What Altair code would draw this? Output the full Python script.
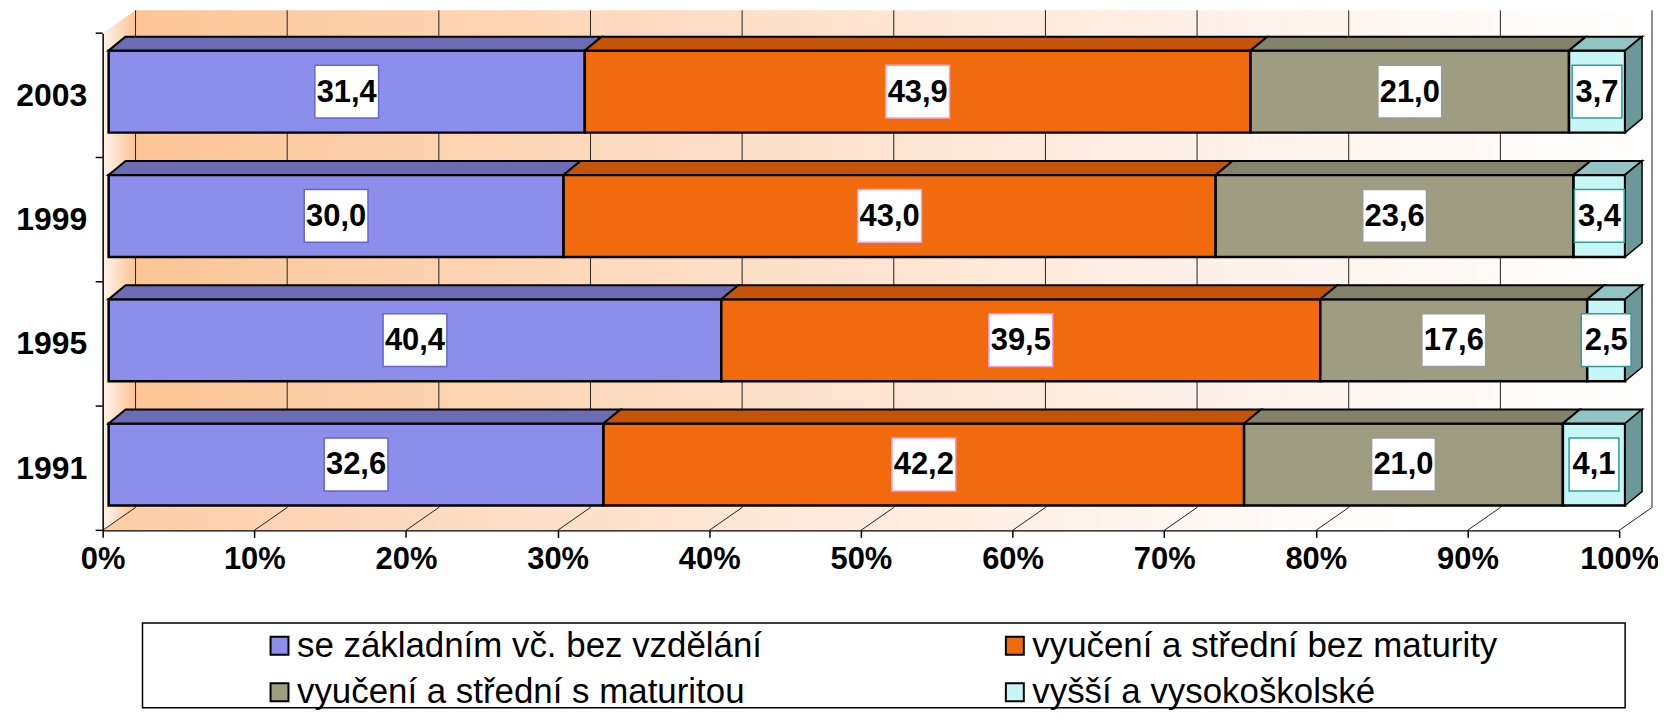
import json
import altair as alt
import pandas as pd

# ---------------- data ----------------
years = ["1991", "1995", "1999", "2003"]
series = [
    "se základním vč. bez vzdělání",
    "vyučení a střední bez maturity",
    "vyučení a střední s maturitou",
    "vyšší a vysokoškolské",
]
zakladni = [32.6, 40.4, 30.0, 31.4]
bez_maturity = [42.2, 39.5, 43.0, 43.9]
s_maturitou = [21.0, 17.6, 23.6, 21.0]
vysokoskolske = [4.1, 2.5, 3.4, 3.7]
x_ticks = [0, 10, 20, 30, 40, 50, 60, 70, 80, 90, 100]

# ---------------- style ----------------
front_colors = ["#8D8DEB", "#F26A0E", "#9E9D82", "#C6F6F6"]
top_colors = ["#6C6CB4", "#C4540A", "#83826B", "#93C4C4"]
box_colors = ["#6666CC", "#F0A0D8", "#9A9A9A", "#2E9C9C"]
SIDE_COLOR = "#6C9898"
FONT = "Liberation Sans"

W, H = 1522, 499
PX_X = W / 100.0
PX_Y = H / len(years)
WDX, WDY = 33 / PX_X, 23 / PX_Y      # wall / floor depth in data units
BDX, BDY = 17 / PX_X, 14 / PX_Y      # bar depth in data units
BAR_SHIFT = 6
BAR_LO, BAR_HI = 0.20, 0.86
NY = len(years)

values = [zakladni, bez_maturity, s_maturitou, vysokoskolske]

front_rows, top_rows, side_rows = [], [], []
for i, yr in enumerate(years):
    row_vals = [v[i] for v in values]
    total = sum(row_vals)
    cum = 0.0
    for k, (s, v) in enumerate(zip(series, row_vals)):
        start = cum / total * 100
        cum += v
        end = cum / total * 100
        label = f"{v:.1f}".replace(".", ",")
        front_rows.append(dict(
            year=yr, series=s, start=start, end=end, mid=(start + end) / 2,
            y0=i + BAR_LO, y1=i + BAR_HI, yc=i + (BAR_LO + BAR_HI) / 2,
            label=label, box="wide" if len(label) > 3 else "narrow",
            box_color=box_colors[k]))
        seg = f"{yr}-{k}"
        top_rows.append(dict(seg=seg, yy=i + BAR_HI, xa=start, xb=end, top_color=top_colors[k]))
        top_rows.append(dict(seg=seg, yy=i + BAR_HI + BDY, xa=start + BDX, xb=end + BDX,
                             top_color=top_colors[k]))
    side_rows.append(dict(year=yr, xx=100.0, ya=i + BAR_LO, yb=i + BAR_HI))
    side_rows.append(dict(year=yr, xx=100.0 + BDX, ya=i + BAR_LO + BDY, yb=i + BAR_HI + BDY))

front_df = pd.DataFrame(front_rows)
top_df = pd.DataFrame(top_rows)
side_df = pd.DataFrame(side_rows)

wall_df = pd.DataFrame([dict(x0=WDX, x1=100 + WDX, y0=WDY, y1=NY + WDY)])
lwall_df = pd.DataFrame(dict(xx=[0, WDX], ya=[0, WDY], yb=[NY, NY + WDY]))
floor_df = pd.DataFrame(dict(yy=[0, WDY], xa=[0, WDX], xb=[100, 100 + WDX]))
grid_df = pd.DataFrame(dict(t=x_ticks))
grid_df["xb"] = grid_df["t"] + WDX
grid_df["y0"] = WDY
grid_df["y1"] = NY + WDY
grid_df["yf"] = 0.0
bound_df = pd.DataFrame(dict(b=list(range(NY + 1))))

xs = alt.Scale(domain=[0, 100], nice=False, zero=False)
ys = alt.Scale(domain=[0, NY], nice=False, zero=False)

label_expr = json.dumps(years) + "[floor(datum.value)]"
XAX = alt.Axis(
    values=x_ticks, labelExpr="datum.value + '%'", title=None, grid=False,
    domainColor="black", domainWidth=1.5, tickColor="black", tickSize=7,
    tickWidth=1.5, labelFont=FONT, labelFontSize=31, labelFontWeight="bold",
    labelColor="black", labelPadding=7, labelFlush=False, labelOverlap=False,
    zindex=1)
YAX = alt.Axis(
    values=[i + 0.5 for i in range(NY)], labelExpr=label_expr, ticks=False,
    title=None, grid=False, domainColor="black", domainWidth=1.5,
    labelFont=FONT, labelFontSize=32, labelFontWeight="bold",
    labelColor="black", labelPadding=16, labelOverlap=False, zindex=1)


def X(field):
    return alt.X(field, scale=xs, axis=XAX)


def Y(field):
    return alt.Y(field, scale=ys, axis=YAX)


def grad(stops, vertical=False):
    return alt.Gradient(
        gradient="linear",
        stops=[alt.GradientStop(offset=o, color=c) for o, c in stops],
        x1=0, y1=0, x2=0 if vertical else 1, y2=1 if vertical else 0)

# ---------------- walls ----------------
back_wall = alt.Chart(wall_df).mark_rect(
    fill=grad([(0, "#FCC596"), (0.35, "#FDDCC2"), (0.7, "#FFF1E8"), (1, "#FFFFFF")])
).encode(x=X("x0:Q"), x2="x1:Q", y=Y("y0:Q"), y2="y1:Q")

left_wall = alt.Chart(lwall_df).mark_area(
    orient="vertical",
    fill=grad([(0, "#FFF4EC"), (1, "#FBC492")])
).encode(x=X("xx:Q"), y=Y("ya:Q"), y2="yb:Q")

floor = alt.Chart(floor_df).mark_area(
    orient="horizontal",
    fill=grad([(0, "#FCCDA6"), (0.45, "#FEE9DA"), (0.85, "#FFFFFF"), (1, "#FFFFFF")])
).encode(y=Y("yy:Q"), x=X("xa:Q"), x2="xb:Q")

back_grid = alt.Chart(grid_df).mark_rule(color="#222222", strokeWidth=1).encode(
    x=X("xb:Q"), y=Y("y0:Q"), y2="y1:Q")

floor_grid = alt.Chart(grid_df).mark_rule(color="#222222", strokeWidth=1).encode(
    x=X("t:Q"), x2="xb:Q", y=Y("yf:Q"), y2="y0:Q")

# ---------------- bars ----------------
# legend lays out column by column: order so rows read like the reference
legend_order = [series[0], series[2], series[1], series[3]]
legend_colors = [front_colors[series.index(s)] for s in legend_order]

front = alt.Chart(front_df).mark_rect(
    stroke="black", strokeWidth=2.5, xOffset=BAR_SHIFT, x2Offset=BAR_SHIFT
).encode(
    x=X("start:Q"), x2="end:Q", y=Y("y0:Q"), y2="y1:Q",
    color=alt.Color("series:N", scale=alt.Scale(domain=legend_order, range=legend_colors),
                    legend=alt.Legend(
                        title=None, orient="none", legendX=160, legendY=597,
                        columns=2, columnPadding=236, rowPadding=11,
                        symbolType="square", symbolSize=324,
                        symbolStrokeColor="black", symbolStrokeWidth=2,
                        labelFont=FONT, labelFontSize=35, labelColor="black",
                        labelOffset=0, labelLimit=0, padding=0)),
)

top = alt.Chart(top_df).mark_area(
    orient="horizontal", stroke="black", strokeWidth=2, xOffset=BAR_SHIFT, x2Offset=BAR_SHIFT
).encode(
    y=Y("yy:Q"), x=X("xa:Q"), x2="xb:Q",
    fill=alt.Fill("top_color:N", scale=None),
    detail="seg:N")

side = alt.Chart(side_df).mark_area(
    orient="vertical", fill=SIDE_COLOR, stroke="black", strokeWidth=1.5, xOffset=BAR_SHIFT
).encode(x=X("xx:Q"), y=Y("ya:Q"), y2="yb:Q", detail="year:N")

# ---------------- value labels ----------------
wide_path = "M-1,-0.828L1,-0.828L1,0.828L-1,0.828Z"
narrow_path = "M-0.781,-0.828L0.781,-0.828L0.781,0.828L-0.781,0.828Z"

boxes = alt.Chart(front_df).mark_point(
    filled=False, fill="white", fillOpacity=1, opacity=1, strokeWidth=1.5, xOffset=BAR_SHIFT
).encode(
    x=X("mid:Q"), y=Y("yc:Q"),
    shape=alt.Shape("box:N", scale=alt.Scale(domain=["wide", "narrow"],
                                              range=[wide_path, narrow_path]), legend=None),
    stroke=alt.Stroke("box_color:N", scale=None),
    size=alt.value(4096))

texts = alt.Chart(front_df).mark_text(
    font=FONT, fontSize=31, fontWeight="bold", color="black",
    baseline="middle", align="center", xOffset=BAR_SHIFT, dy=1
).encode(x=X("mid:Q"), y=Y("yc:Q"), text="label:N")

# ---------------- y axis boundary ticks ----------------
yticks = alt.Chart(bound_df).mark_rule(color="black", strokeWidth=1.5).encode(
    x=alt.value(0), x2=alt.value(-7), y=Y("b:Q"))

# ---------------- legend frame ----------------
frame = alt.Chart(pd.DataFrame({"k": [0]})).mark_rect(
    fill="white", stroke="black", strokeWidth=1.5
).encode(
    x=alt.value(40), x2=alt.value(1528),
    y=alt.value(592), y2=alt.value(677))

chart = alt.layer(
    back_wall, left_wall, floor, back_grid, floor_grid, frame,
    front, top, side, boxes, texts, yticks
).properties(
    width=W, height=H,
    autosize=alt.AutoSizeParams(type="none"),
    padding={"left": 95, "top": 24, "right": 39, "bottom": 180},
).configure_view(stroke=None)

chart.save("out.html", embed_options={"renderer": "svg", "actions": False})
